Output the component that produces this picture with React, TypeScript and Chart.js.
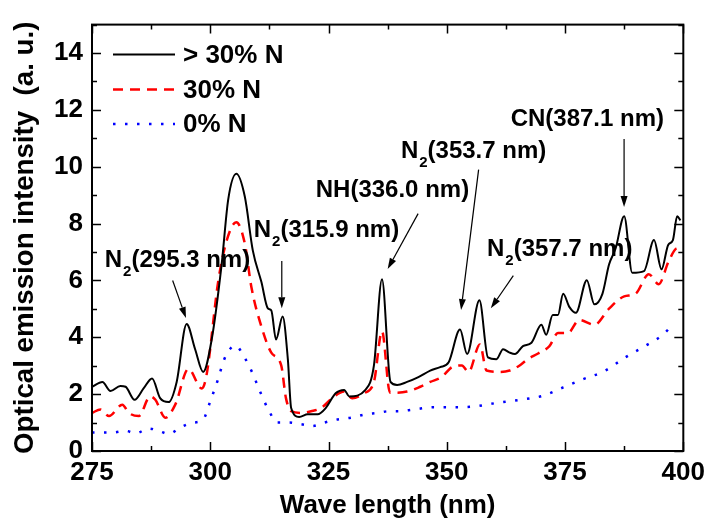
import React, { useEffect, useRef } from "react";
import { Chart, registerables } from "chart.js";

Chart.register(...registerables);

// ---------- axes ----------
const xMin = 275;
const xMax = 400;
const xMajorStep = 25;
const xMinorStep = 12.5;
const yMin = 0;
const yMax = 15;
const yMajorStep = 2;
const yMinorStep = 1;

const xTitle = "Wave length (nm)";
const yTitle = "Optical emission intensity  (a. u.)";

// ---------- series: > 30% N ----------
const gt30Wave = [
  275.0, 277.2, 278.9, 281.0, 282.1, 284.0, 285.9, 287.7, 289.4, 291.2, 292.9,
  295.0, 296.8, 298.5, 300.3, 302.4, 303.8, 305.5, 307.3, 309.0, 310.8, 312.2,
  312.9, 313.9, 315.3, 316.4, 317.1, 318.8, 320.6, 322.7, 324.4, 326.5, 328.3,
  329.4, 332.8, 334.6, 336.3, 338.1, 339.5, 341.6, 344.0, 346.5, 348.6, 350.4,
  352.8, 354.3, 356.9, 358.7, 360.5, 361.9, 363.3, 364.4, 366.1, 367.9, 370.0,
  371.0, 372.4, 373.5, 374.6, 375.9, 377.3, 379.6, 381.2, 382.9, 384.3, 385.7,
  387.5, 389.2, 391.7, 393.8, 395.4, 396.8, 397.8, 398.7, 399.4,
];
const gt30Int = [
  2.26, 2.43, 2.11, 2.29, 2.26, 1.8, 2.2, 2.55, 1.86, 1.72, 2.43,
  4.47, 3.58, 2.78, 3.92, 6.56, 8.85, 9.75, 8.95, 7.05, 5.95, 5.01,
  4.95, 3.92, 4.73, 3.23, 1.51, 1.2, 1.29, 1.29, 1.51, 2.03, 2.15,
  1.92, 2.15, 3.01, 6.04, 2.43, 2.32, 2.43, 2.6, 2.83, 2.95, 3.12,
  4.27, 3.41, 5.3, 3.29, 3.23, 3.58, 3.46, 3.41, 3.69, 3.81, 4.44,
  4.09, 4.78, 4.78, 5.53, 5.07, 4.86, 6.01, 5.16, 5.53, 6.56, 7.13,
  8.26, 6.27, 6.33, 7.42, 6.39, 7.25, 7.42, 8.26, 8.11,
];

// ---------- series: 30% N ----------
const n30Wave = [
  275.0, 276.8, 278.6, 281.4, 282.8, 284.9, 287.3, 288.4, 290.5, 292.6, 295.4,
  298.2, 299.2, 301.7, 303.4, 305.5, 307.3, 308.7, 310.8, 312.9, 315.0, 316.0,
  317.1, 319.2, 321.3, 323.4, 326.2, 328.3, 330.0, 332.5, 334.6, 336.3, 338.0,
  341.6, 344.4, 346.5, 348.9, 351.1, 353.2, 354.6, 357.0, 358.4, 361.2, 363.3,
  365.4, 367.1, 369.3, 371.7, 373.5, 375.6, 378.0, 381.2, 384.3, 387.5, 389.9,
  392.7, 394.8, 396.9, 398.7, 399.4,
];
const n30Int = [
  1.34, 1.46, 1.23, 1.63, 1.34, 1.23, 1.92, 1.8, 1.17, 1.63, 2.89,
  2.2, 2.66, 5.99, 7.36, 8.05, 7.3, 5.76, 4.38, 3.46, 3.01, 1.86,
  1.4, 1.34, 1.4, 1.51, 1.92, 2.09, 1.86, 2.03, 2.43, 4.21, 2.05,
  2.09, 2.26, 2.43, 2.6, 2.95, 3.01, 2.78, 3.75, 2.83, 2.78, 2.83,
  3.01, 3.23, 3.43, 3.69, 4.15, 4.15, 4.61, 4.44, 5.01, 5.44, 5.53,
  6.22, 5.87, 6.67, 7.13, 7.02,
];

// ---------- series: 0% N ----------
const n0Wave = [
  275.0, 279.3, 282.1, 284.2, 287.0, 289.1, 291.2, 293.7, 296.1, 298.5, 300.1,
  301.6, 302.8, 304.0, 305.3, 307.2, 308.9, 310.5, 312.3, 314.2, 316.7, 319.2,
  321.6, 324.1, 326.9, 329.7, 332.8, 335.3, 337.8, 339.5, 343.0, 347.2, 351.4,
  356.0, 360.5, 365.4, 370.3, 374.5, 378.7, 383.3, 387.7, 392.2, 395.9, 397.8,
];
const n0Int = [
  0.65, 0.65, 0.71, 0.62, 0.79, 0.71, 0.6, 0.83, 0.99, 1.11, 1.8,
  2.5, 3.16, 3.55, 3.71, 3.3, 2.75, 2.1, 1.45, 1.0, 1.0, 0.94,
  0.88, 1.0, 1.11, 1.17, 1.29, 1.34, 1.4, 1.4, 1.46, 1.54, 1.54,
  1.57, 1.69, 1.8, 1.94, 2.23, 2.52, 2.81, 3.29, 3.72, 4.12, 4.47,
];

const seriesLabels = ["> 30% N", "30% N", "0% N"];

// ---------- peak annotations (data units) ----------
const peakMain = ["N", "N", "NH", "N", "N", "CN"];
const peakSub = ["2", "2", "", "2", "2", ""];
const peakRest = ["(295.3 nm)", "(315.9 nm)", "(336.0 nm)", "(353.7 nm)", "(357.7 nm)", "(387.1 nm)"];
const peakTextX = [277.7, 309.2, 322.3, 340.3, 358.5, 363.5];
const peakTextY = [6.46, 7.54, 8.92, 10.3, 6.86, 11.45];
const peakFromX = [292.05, 315.12, 343.94, 356.73, 364.07, 387.48];
const peakFromY = [6.0, 6.68, 8.35, 9.9, 6.17, 10.98];
const peakToX = [294.86, 315.12, 337.5, 353.02, 359.31, 387.48];
const peakToY = [4.68, 5.02, 6.4, 4.96, 5.02, 8.58];

const FONT = "'Liberation Sans', Arial, Helvetica, sans-serif";

const styles = [
  { color: "#000000", width: 2, dash: [] as number[] },
  { color: "#ff0000", width: 2.5, dash: [10, 7] },
  { color: "#0000ff", width: 2.5, dash: [2.5, 9.5] },
];

function toPoints(xs: number[], ys: number[]) {
  return xs.map((x, i) => ({ x, y: ys[i] }));
}

const decorPlugin = {
  id: "decor",
  afterDatasetsDraw(chart: any) {
    const { ctx, chartArea: a, scales } = chart;
    const xs = scales.x;
    const ys = scales.y;
    ctx.save();

    // frame
    ctx.strokeStyle = "#000";
    ctx.lineWidth = 2;
    ctx.setLineDash([]);
    ctx.strokeRect(a.left, a.top, a.right - a.left, a.bottom - a.top);

    // inward ticks on all four sides
    ctx.lineWidth = 1.5;
    ctx.beginPath();
    for (let v = xMin; v <= xMax + 1e-9; v += xMinorStep) {
      const major = Math.abs(((v - xMin) / xMajorStep) - Math.round((v - xMin) / xMajorStep)) < 1e-6;
      const len = major ? 9 : 5;
      const px = Math.round(xs.getPixelForValue(v)) + 0.5;
      ctx.moveTo(px, a.bottom);
      ctx.lineTo(px, a.bottom - len);
      ctx.moveTo(px, a.top);
      ctx.lineTo(px, a.top + len);
    }
    for (let v = yMin; v <= yMax + 1e-9; v += yMinorStep) {
      const major = Math.abs(((v - yMin) / yMajorStep) - Math.round((v - yMin) / yMajorStep)) < 1e-6;
      const len = major ? 9 : 5;
      const py = Math.round(ys.getPixelForValue(v)) + 0.5;
      ctx.moveTo(a.left, py);
      ctx.lineTo(a.left + len, py);
      ctx.moveTo(a.right, py);
      ctx.lineTo(a.right - len, py);
    }
    ctx.stroke();

    // legend
    const legX0 = a.left + 21;
    const legX1 = a.left + 83;
    const legTextX = a.left + 91;
    const rows = [a.top + 30, a.top + 65, a.top + 99.5];
    ctx.font = `bold 26px ${FONT}`;
    ctx.textBaseline = "middle";
    ctx.textAlign = "left";
    seriesLabels.forEach((lab, i) => {
      const st = styles[i];
      ctx.strokeStyle = st.color;
      ctx.lineWidth = st.width;
      ctx.setLineDash(st.dash);
      ctx.beginPath();
      ctx.moveTo(legX0, rows[i]);
      ctx.lineTo(legX1, rows[i]);
      ctx.stroke();
      ctx.setLineDash([]);
      ctx.fillStyle = "#000";
      ctx.fillText(lab, legTextX, rows[i] + 1);
    });

    // annotations
    ctx.fillStyle = "#000";
    ctx.strokeStyle = "#000";
    ctx.textBaseline = "alphabetic";
    for (let i = 0; i < peakMain.length; i++) {
      let tx = xs.getPixelForValue(peakTextX[i]);
      const ty = ys.getPixelForValue(peakTextY[i]);
      ctx.font = `bold 24px ${FONT}`;
      ctx.fillText(peakMain[i], tx, ty);
      tx += ctx.measureText(peakMain[i]).width;
      if (peakSub[i]) {
        ctx.font = `bold 15px ${FONT}`;
        ctx.fillText(peakSub[i], tx + 1, ty + 9);
        tx += ctx.measureText(peakSub[i]).width + 1;
        ctx.font = `bold 24px ${FONT}`;
      }
      ctx.fillText(peakRest[i], tx, ty);

      const fx = xs.getPixelForValue(peakFromX[i]);
      const fy = ys.getPixelForValue(peakFromY[i]);
      const ex = xs.getPixelForValue(peakToX[i]);
      const ey = ys.getPixelForValue(peakToY[i]);
      const ang = Math.atan2(ey - fy, ex - fx);
      const headLen = 11;
      const headHalf = 3.5;
      const bx = ex - headLen * Math.cos(ang);
      const by = ey - headLen * Math.sin(ang);
      ctx.lineWidth = 1.2;
      ctx.beginPath();
      ctx.moveTo(fx, fy);
      ctx.lineTo(bx, by);
      ctx.stroke();
      ctx.beginPath();
      ctx.moveTo(ex, ey);
      ctx.lineTo(bx + headHalf * Math.sin(ang), by - headHalf * Math.cos(ang));
      ctx.lineTo(bx - headHalf * Math.sin(ang), by + headHalf * Math.cos(ang));
      ctx.closePath();
      ctx.fill();
    }

    ctx.restore();
  },
};

export default function App() {
  const canvasRef = useRef<HTMLCanvasElement | null>(null);

  useEffect(() => {
    const canvas = canvasRef.current;
    if (!canvas) return;
    const seriesData = [
      toPoints(gt30Wave, gt30Int),
      toPoints(n30Wave, n30Int),
      toPoints(n0Wave, n0Int),
    ];
    const chart = new Chart(canvas, {
      type: "line",
      data: {
        datasets: seriesData.map((d, i) => ({
          label: seriesLabels[i],
          data: d,
          borderColor: styles[i].color,
          borderWidth: styles[i].width,
          borderDash: styles[i].dash,
          pointRadius: 0,
          fill: false,
          cubicInterpolationMode: "monotone" as const,
        })),
      },
      options: {
        responsive: false,
        animation: false,
        parsing: true,
        layout: { padding: { left: 0, right: 23, top: 15, bottom: 0 } },
        plugins: {
          legend: { display: false },
          tooltip: { enabled: false },
        },
        scales: {
          x: {
            type: "linear",
            min: xMin,
            max: xMax,
            grid: { display: false, drawTicks: false },
            border: { display: false },
            ticks: {
              stepSize: xMajorStep,
              padding: 6,
              color: "#000",
              maxRotation: 0,
              autoSkip: false,
              font: { family: FONT, size: 26, weight: "bold" },
            },
            title: {
              display: true,
              text: xTitle,
              color: "#000",
              font: { family: FONT, size: 26, weight: "bold", lineHeight: 1 },
              padding: { top: 0, bottom: 4 },
            },
            afterFit(scale: any) {
              scale.height = 72;
            },
          },
          y: {
            type: "linear",
            min: yMin,
            max: yMax,
            grid: { display: false, drawTicks: false },
            border: { display: false },
            ticks: {
              stepSize: yMajorStep,
              includeBounds: false,
              padding: 9,
              color: "#000",
              font: { family: FONT, size: 26, weight: "bold" },
            },
            title: {
              display: true,
              text: yTitle,
              color: "#000",
              font: { family: FONT, size: 27.7, weight: "bold", lineHeight: 1 },
              padding: { top: 12, bottom: 0 },
            },
            afterFit(scale: any) {
              scale.width = 92;
            },
          },
        },
      },
      plugins: [decorPlugin],
    });
    return () => chart.destroy();
  }, []);

  return (
    <div style={{ position: "absolute", left: 0, top: 0, width: 711, height: 523, background: "#fff" }}>
      <canvas ref={canvasRef} width={711} height={523} style={{ display: "block" }} />
    </div>
  );
}
